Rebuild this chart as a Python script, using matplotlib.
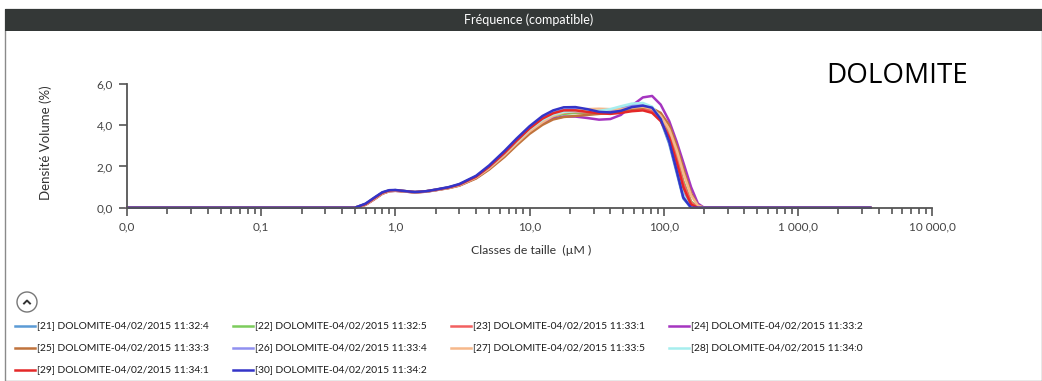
import matplotlib
matplotlib.use("Agg")
import matplotlib.pyplot as plt
from matplotlib.patches import Rectangle, Ellipse
from matplotlib.lines import Line2D
from matplotlib.transforms import Bbox, TransformedBbox

plt.rcParams["font.family"] = ["Lato", "DejaVu Sans"]

# ── Data ─────────────────────────────────────────────────────────────────────
sizes = [0.01, 0.5, 0.6, 0.7, 0.8, 0.9, 1.0, 1.2, 1.4, 1.7, 2.0, 2.5, 3.0, 4.0,
         5.0, 6.5, 8.0, 10, 12.5, 15, 18, 22, 27, 33, 40, 48, 58, 70, 82, 95,
         110, 125, 140, 160, 180, 200, 3500]

s21 = [0, 0, 0.18, 0.48, 0.73, 0.84, 0.85, 0.8, 0.76, 0.8, 0.87, 0.99, 1.13, 1.52, 2.0, 2.68, 3.27, 3.87, 4.35, 4.6, 4.74, 4.78, 4.72, 4.64, 4.66, 4.78, 4.98, 5.0, 4.85, 4.25, 3.1, 1.7, 0.45, 0, 0, 0, 0]
s22 = [0, 0, 0.16, 0.45, 0.7, 0.82, 0.84, 0.79, 0.75, 0.79, 0.86, 0.97, 1.1, 1.47, 1.93, 2.58, 3.15, 3.74, 4.18, 4.42, 4.55, 4.6, 4.6, 4.58, 4.62, 4.72, 4.85, 4.88, 4.8, 4.4, 3.6, 2.5, 1.3, 0.3, 0, 0, 0]
s23 = [0, 0, 0.16, 0.45, 0.7, 0.82, 0.84, 0.79, 0.75, 0.79, 0.86, 0.97, 1.1, 1.48, 1.95, 2.6, 3.18, 3.78, 4.25, 4.5, 4.62, 4.65, 4.62, 4.58, 4.6, 4.68, 4.78, 4.82, 4.7, 4.3, 3.5, 2.4, 1.2, 0.25, 0, 0, 0]
s24 = [0, 0, 0.14, 0.42, 0.68, 0.8, 0.82, 0.78, 0.74, 0.78, 0.85, 0.96, 1.08, 1.44, 1.88, 2.5, 3.08, 3.65, 4.08, 4.32, 4.42, 4.42, 4.35, 4.27, 4.3, 4.5, 4.95, 5.35, 5.42, 5.0, 4.2, 3.2, 2.2, 1.0, 0.2, 0, 0]
s25 = [0, 0, 0.14, 0.42, 0.68, 0.8, 0.82, 0.78, 0.74, 0.78, 0.85, 0.95, 1.07, 1.42, 1.85, 2.46, 3.02, 3.58, 4.02, 4.28, 4.4, 4.45, 4.5, 4.55, 4.6, 4.68, 4.78, 4.85, 4.82, 4.6, 4.0, 3.0, 1.9, 0.7, 0.1, 0, 0]
s26 = [0, 0, 0.17, 0.47, 0.72, 0.83, 0.85, 0.8, 0.76, 0.8, 0.87, 0.98, 1.12, 1.5, 1.98, 2.65, 3.24, 3.84, 4.32, 4.6, 4.74, 4.78, 4.75, 4.7, 4.72, 4.8, 4.95, 5.0, 4.85, 4.3, 3.3, 2.0, 0.7, 0.05, 0, 0, 0]
s27 = [0, 0, 0.15, 0.44, 0.69, 0.81, 0.83, 0.79, 0.75, 0.79, 0.86, 0.96, 1.09, 1.46, 1.91, 2.55, 3.12, 3.7, 4.15, 4.45, 4.62, 4.7, 4.78, 4.8, 4.78, 4.78, 4.85, 4.9, 4.8, 4.45, 3.8, 2.8, 1.7, 0.6, 0.1, 0, 0]
s28 = [0, 0, 0.17, 0.47, 0.72, 0.83, 0.85, 0.8, 0.76, 0.8, 0.87, 0.98, 1.12, 1.5, 1.97, 2.63, 3.2, 3.8, 4.26, 4.52, 4.65, 4.68, 4.68, 4.7, 4.78, 4.92, 5.05, 5.08, 4.9, 4.3, 3.2, 1.9, 0.6, 0, 0, 0, 0]
s29 = [0, 0, 0.17, 0.47, 0.72, 0.83, 0.85, 0.8, 0.76, 0.8, 0.87, 0.98, 1.12, 1.5, 1.98, 2.65, 3.24, 3.84, 4.32, 4.58, 4.72, 4.72, 4.65, 4.58, 4.55, 4.6, 4.68, 4.72, 4.6, 4.2, 3.4, 2.2, 1.0, 0.15, 0, 0, 0]
s30 = [0, 0, 0.2, 0.5, 0.75, 0.85, 0.86, 0.8, 0.76, 0.8, 0.88, 1.0, 1.15, 1.55, 2.05, 2.75, 3.35, 3.95, 4.45, 4.72, 4.87, 4.88, 4.78, 4.65, 4.62, 4.7, 4.88, 4.95, 4.85, 4.3, 3.2, 1.8, 0.5, 0, 0, 0, 0]

labels = [
    "[21] DOLOMITE-04/02/2015 11:32:4",
    "[22] DOLOMITE-04/02/2015 11:32:5",
    "[23] DOLOMITE-04/02/2015 11:33:1",
    "[24] DOLOMITE-04/02/2015 11:33:2",
    "[25] DOLOMITE-04/02/2015 11:33:3",
    "[26] DOLOMITE-04/02/2015 11:33:4",
    "[27] DOLOMITE-04/02/2015 11:33:5",
    "[28] DOLOMITE-04/02/2015 11:34:0",
    "[29] DOLOMITE-04/02/2015 11:34:1",
    "[30] DOLOMITE-04/02/2015 11:34:2",
]
series = [s21, s22, s23, s24, s25, s26, s27, s28, s29, s30]
colors = ["#5b9bd5", "#7ccc5c", "#f26060", "#a535c0", "#c0733c",
          "#9090f0", "#f6b88a", "#a6eeee", "#e42828", "#3434c8"]

xticks = [0.01, 0.1, 1, 10, 100, 1000, 10000]
xticklabels = ["0,0", "0,1", "1,0", "10,0", "100,0", "1 000,0", "10 000,0"]
yticks = [0, 2, 4, 6]
yticklabels = ["0,0", "2,0", "4,0", "6,0"]

# ── Figure ───────────────────────────────────────────────────────────────────
W, H = 1042, 381
fig = plt.figure(figsize=(W / 100, H / 100), dpi=100)
fig.patch.set_facecolor("white")

def fx(px):
    return px / W

def fy(py):
    return 1 - py / H

# panel frame + title bar (behind the axes)
fig.add_artist(Rectangle((fx(5), 0), 1 - fx(5), fy(9), transform=fig.transFigure,
                         facecolor="white", edgecolor="#8a8a8a", lw=1.0, zorder=-2))
fig.add_artist(Rectangle((fx(5), fy(31)), 1 - fx(5), fy(9) - fy(31),
                         transform=fig.transFigure, facecolor="#343837",
                         edgecolor="none", zorder=-1))
fig.text(fx(529), fy(20), "Fréquence (compatible)", color="white", fontsize=9,
         ha="center", va="center")

ax = fig.add_axes([fx(127), fy(207.7), fx(932) - fx(127), fy(84) - fy(207.7)])
for vals, c in zip(series, colors):
    ax.plot(sizes, vals, color=c, lw=1.8, clip_on=False, solid_capstyle="round")

ax.set_xscale("log")
ax.set_xlim(0.01, 10000)
ax.set_ylim(0, 6)
ax.set_xticks(xticks)
ax.set_xticklabels(xticklabels)
ax.set_yticks(yticks)
ax.set_yticklabels(yticklabels)
for s in ["top", "right"]:
    ax.spines[s].set_visible(False)
for s in ["left", "bottom"]:
    ax.spines[s].set_color("#555555")
    ax.spines[s].set_linewidth(1.3)
ax.tick_params(which="major", length=6, width=1.2, color="#555555",
               labelsize=8.5, labelcolor="#444444", pad=4)
ax.tick_params(which="minor", length=4.5, width=1.2, color="#555555")
ax.set_xlabel("Classes de taille  (µM )", fontsize=8.8, color="#333333")
ax.xaxis.set_label_coords(0.502, -0.30)
ax.set_ylabel("Densité Volume (%)", fontsize=9.5, color="#333333")
ax.yaxis.set_label_coords(-0.093, 0.523)
ax.set_facecolor("none")

fig.text(fx(826), fy(76), "DOLOMITE", fontsize=20, color="black",
         ha="left", va="center", family=["Open Sans", "DejaVu Sans"])

# collapse button
fig.add_artist(Ellipse((fx(27), fy(302)), 20 / W, 20 / H, transform=fig.transFigure,
                       facecolor="white", edgecolor="#777777", lw=1.0))
fig.add_artist(Line2D([fx(24), fx(27), fx(30)], [fy(303.5), fy(300.5), fy(303.5)],
                      transform=fig.transFigure, color="#333333", lw=1.4))

# legend grid (4 columns, clipped text like the screenshot)
col_x = [15, 233, 451, 669]
row_y = [326, 348, 370]
for i, (lab, c) in enumerate(zip(labels, colors)):
    r, k = divmod(i, 4)
    x0, y0 = col_x[k], row_y[r]
    fig.add_artist(Line2D([fx(x0), fx(x0 + 20)], [fy(y0), fy(y0)],
                          transform=fig.transFigure, color=c, lw=1.8))
    t = fig.text(fx(x0 + 22), fy(y0), lab, fontsize=7.4, color="#1a1a1a",
                 ha="left", va="center")
    t.set_clip_box(TransformedBbox(Bbox([[fx(x0), fy(y0 + 12)], [fx(x0 + 194), fy(y0 - 12)]]),
                                   fig.transFigure))
    t.set_clip_on(True)

fig.savefig("out.png", dpi=100)
